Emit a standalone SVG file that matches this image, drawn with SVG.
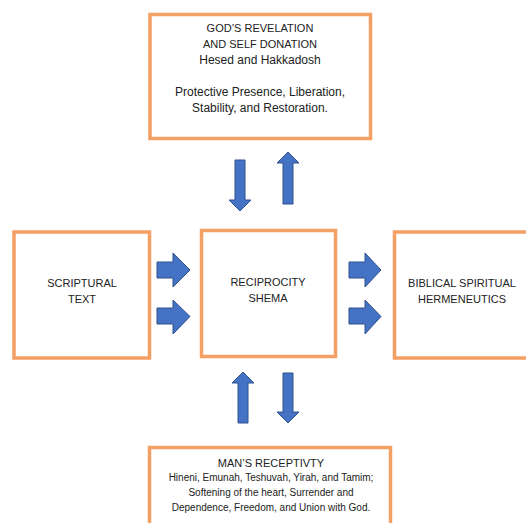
<svg xmlns="http://www.w3.org/2000/svg" width="526" height="523" viewBox="0 0 526 523">
<style>
.box{fill:#fff;stroke:#F4A064;stroke-width:3.5}
.arr{fill:#4472C4;stroke:#2F528F;stroke-width:1}
text{font-family:"Liberation Sans",Arial,sans-serif;font-size:12px;fill:#222;text-anchor:middle}
.c{font-size:11px}
.s{font-size:10px}
</style>
<rect width="526" height="523" fill="#fff"/>
<g id="god">
<rect class="box" x="150" y="14.5" width="220.5" height="124"/>
<text class="c" x="260" y="32">GOD’S REVELATION</text>
<text class="c" x="260" y="48">AND SELF DONATION</text>
<text x="260" y="64">Hesed and Hakkadosh</text>
<text x="260" y="96">Protective Presence, Liberation,</text>
<text x="260" y="112">Stability, and Restoration.</text>
</g>
<g id="scriptural">
<rect class="box" x="14" y="232" width="135.5" height="126"/>
<text class="c" x="82" y="287">SCRIPTURAL</text>
<text class="c" x="82" y="303">TEXT</text>
</g>
<g id="shema">
<rect class="box" x="201.5" y="230.5" width="134" height="126"/>
<text class="c" x="268" y="286">RECIPROCITY</text>
<text class="c" x="268" y="302">SHEMA</text>
</g>
<g id="hermeneutics">
<rect class="box" x="394.5" y="232" width="140" height="126"/>
<text class="c" x="462" y="287">BIBLICAL SPIRITUAL</text>
<text class="c" x="462" y="303">HERMENEUTICS</text>
</g>
<g id="receptivity">
<rect class="box" x="149.5" y="447.5" width="241" height="90"/>
<text class="c" x="271" y="467">MAN’S RECEPTIVTY</text>
<text class="s" x="271" y="481">Hineni, Emunah, Teshuvah, Yirah, and Tamim;</text>
<text class="s" x="271" y="496">Softening of the heart, Surrender and</text>
<text class="s" x="271" y="511">Dependence, Freedom, and Union with God.</text>
</g>
<g id="connectors">
<polygon class="arr" points="235,160 245,160 245,200 251,200 240,211 229,200 235,200"/>
<polygon class="arr" points="283,204 293,204 293,163 299,163 288,152 277,163 283,163"/>
<polygon class="arr" points="238,423 248,423 248,383 254,383 243,372 232,383 238,383"/>
<polygon class="arr" points="283,373 293,373 293,412 299,412 288,423 277,412 283,412"/>
<polygon class="arr" points="157,262 173,262 173,253 190,270 173,287 173,278 157,278"/>
<polygon class="arr" points="157,308 173,308 173,300 190,316.5 173,334 173,324 157,324"/>
<polygon class="arr" points="349,262 365,262 365,253 381,270 365,287 365,278 349,278"/>
<polygon class="arr" points="349,308 365,308 365,300 381,316.5 365,334 365,324 349,324"/>
</g>
</svg>
